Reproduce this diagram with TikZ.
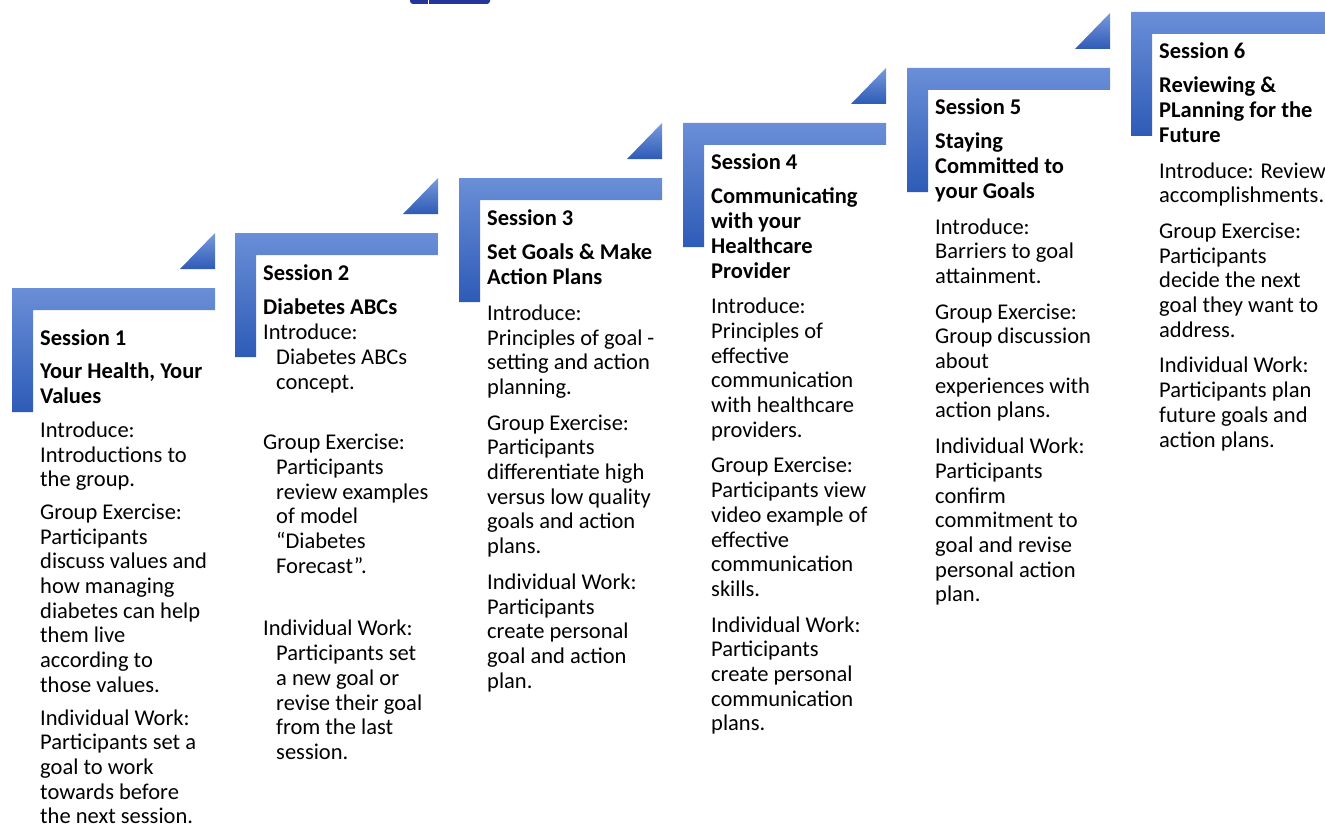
\documentclass[tikz,border=0pt]{standalone}
\usepackage{fontspec}
\setmainfont{Carlito}
\usepackage{xcolor}
\usepackage{tikz}
\usetikzlibrary{positioning}

\definecolor{stairlight}{HTML}{6A8FD8}
\definecolor{stairdark}{HTML}{2E5BB7}
\definecolor{logonavy}{HTML}{26359B}

% fixed height for the first row, so the top of a text node sits 20pt above its first baseline
\newcommand{\toprow}{\rule{0pt}{20pt}}

\tikzset{
    stair/.pic={\path[top color=stairlight, bottom color=stairdark] (0,0) -- (203,0) -- (203,22) -- (21,22) -- (21,124) -- (0,124) -- cycle;},
    riser/.pic={\path[top color=stairlight!90, bottom color=stairdark] (168,-19) -- (203,-55) -- (203,-19) -- cycle;},
    sessiontext/.style={anchor=north west, align=left, inner sep=0pt, font=\fontsize{22.5}{24.7}\selectfont},
}

\begin{document}
\begin{tikzpicture}[x=1pt, y=-1pt]
    \useasboundingbox (0,0) rectangle (1325,832);
    \clip (0,0) rectangle (1325,832);

    % cut-off logo at the top edge
    \fill[logonavy, rounded corners=3pt] (410,-10) rectangle (490,4);
    \draw[white, line width=0.8pt] (428,-10) -- (428,4);

    % stairs
    \pic (st1) at (12,288) {stair};
    \pic (st2) at (235,233) {stair};
    \pic (st3) at (459,178) {stair};
    \pic (st4) at (683,123) {stair};
    \pic (st5) at (907,68) {stair};
    \pic (st6) at (1131,12) {stair};
    \pic (rs1) at (12,288) {riser};
    \pic (rs2) at (235,233) {riser};
    \pic (rs3) at (459,178) {riser};
    \pic (rs4) at (683,123) {riser};
    \pic (rs5) at (907,68) {riser};

    % session texts (node top = first baseline - 20)
    \node[sessiontext] (s1) at (40,325) {\toprow\textbf{Session 1}\\[9pt]
        \textbf{Your Health, Your}\\ \textbf{Values}\\[9pt]
        Introduce:\\ Introductions to\\ the group.\\[8pt]
        Group Exercise:\\ Participants\\ discuss values and\\ how managing\\ diabetes can help\\ them live\\ according to\\ those values.\\[8pt]
        Individual Work:\\ Participants set a\\ goal to work\\ towards before\\ the next session.};

    \node[sessiontext] (s2) at (263,260) {\toprow\textbf{Session 2}\\[10pt]
        \textbf{Diabetes ABCs}\\
        Introduce:\\ \hspace*{13pt}Diabetes ABCs\\ \hspace*{13pt}concept.\\[36pt]
        Group Exercise:\\ \hspace*{13pt}Participants\\ \hspace*{13pt}review examples\\ \hspace*{13pt}of model\\ \hspace*{13pt}“Diabetes\\ \hspace*{13pt}Forecast”.\\[38pt]
        Individual Work:\\ \hspace*{13pt}Participants set\\ \hspace*{13pt}a new goal or\\ \hspace*{13pt}revise their goal\\ \hspace*{13pt}from the last\\ \hspace*{13pt}session.};

    \node[sessiontext] (s3) at (487,205) {\toprow\textbf{Session 3}\\[10pt]
        \textbf{Set Goals \& Make}\\ \textbf{Action Plans}\\[11pt]
        Introduce:\\ Principles of goal -\\ setting and action\\ planning.\\[11pt]
        Group Exercise:\\ Participants\\ differentiate high\\ versus low quality\\ goals and action\\ plans.\\[11pt]
        Individual Work:\\ Participants\\ create personal\\ goal and action\\ plan.};

    \node[sessiontext] (s4) at (711,149) {\toprow\textbf{Session 4}\\[10pt]
        \textbf{Communicating}\\ \textbf{with your}\\ \textbf{Healthcare}\\ \textbf{Provider}\\[11pt]
        Introduce:\\ Principles of\\ effective\\ communication\\ with healthcare\\ providers.\\[11pt]
        Group Exercise:\\ Participants view\\ video example of\\ effective\\ communication\\ skills.\\[11pt]
        Individual Work:\\ Participants\\ create personal\\ communication\\ plans.};

    \node[sessiontext] (s5) at (935,94) {\toprow\textbf{Session 5}\\[10pt]
        \textbf{Staying}\\ \textbf{Committed to}\\ \textbf{your Goals}\\[11pt]
        Introduce:\\ Barriers to goal\\ attainment.\\[11pt]
        Group Exercise:\\ Group discussion\\ about\\ experiences with\\ action plans.\\[11pt]
        Individual Work:\\ Participants\\ confirm\\ commitment to\\ goal and revise\\ personal action\\ plan.};

    \node[sessiontext] (s6) at (1159,38) {\toprow\textbf{Session 6}\\[10pt]
        \textbf{Reviewing \&}\\ \textbf{PLanning for the}\\ \textbf{Future}\\[11pt]
        Introduce: Review\\ accomplishments.\\[11pt]
        Group Exercise:\\ Participants\\ decide the next\\ goal they want to\\ address.\\[11pt]
        Individual Work:\\ Participants plan\\ future goals and\\ action plans.};
\end{tikzpicture}
\end{document}
